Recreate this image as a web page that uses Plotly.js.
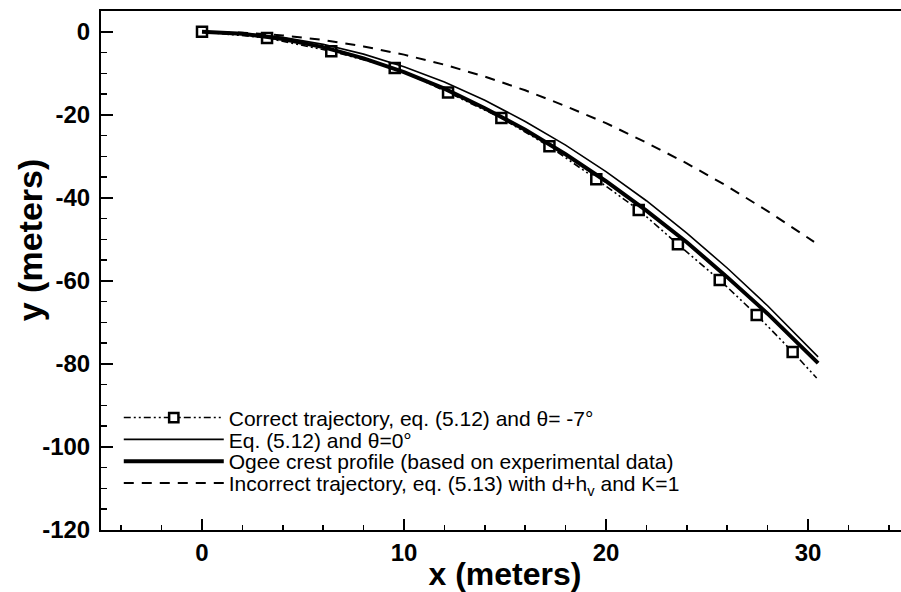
<!DOCTYPE html>
<html>
<head>
<meta charset="utf-8">
<script src="https://cdn.plot.ly/plotly-3.0.1.min.js"></script>
<style>
html,body{margin:0;padding:0;overflow:hidden;background:#fff;}
#chart{width:910px;height:592px;}
</style>
</head>
<body>
<div id="chart"></div>
<script>
// Correct trajectory, eq. (5.12), theta = -7 deg (markers)
var correctX = [0, 3.22, 6.40, 9.54, 12.18, 14.82, 17.20, 19.52, 21.62, 23.56, 25.63, 27.46, 29.24, 30.43];
var correctY = [0, -1.5, -4.7, -8.7, -14.6, -20.8, -27.6, -35.5, -42.9, -51.2, -59.8, -68.2, -77.1, -83.4];

// Eq. (5.12), theta = 0
var thetaZeroX = [0, 2, 4, 6, 8, 10, 12, 14, 16, 18, 20, 22, 24, 26, 28, 30, 30.5];
var thetaZeroY = [0, -0.34, -1.35, -3.03, -5.39, -8.4, -12.1, -16.5, -21.6, -27.3, -33.7, -40.7, -48.5, -56.9, -66.0, -75.8, -78.3];

// Ogee crest profile (experimental)
var ogeeX = [0, 2, 4, 6, 8, 10, 12, 14, 16, 18, 20, 22, 24, 26, 28, 30, 30.5];
var ogeeY = [0, -0.47, -1.73, -3.71, -6.39, -9.73, -13.7, -18.4, -23.6, -29.5, -36.0, -43.1, -50.7, -59.1, -67.9, -77.4, -79.8];

// Incorrect trajectory, eq. (5.13)
var incorrectX = [0, 2, 4, 6, 8, 10, 12, 14, 16, 18, 20, 22, 24, 26, 28, 30, 30.3];
var incorrectY = [0, -0.22, -0.88, -1.98, -3.53, -5.51, -7.93, -10.8, -14.1, -17.9, -22.0, -26.7, -31.7, -37.2, -43.2, -49.6, -50.6];

var seriesNames = [
  'Correct trajectory, eq. (5.12) and \u03b8= -7\u00b0',
  'Eq. (5.12) and \u03b8=0\u00b0',
  'Ogee crest profile (based on experimental data)',
  'Incorrect trajectory, eq. (5.13) with d+h<sub>v</sub> and K=1'
];

var yTickVals = [0, -20, -40, -60, -80, -100, -120];
var yTickText = ['0', '-20', '-40', '-60', '-80', '-100', '-120'];
var xTickVals = [0, 10, 20, 30];
var xTickText = ['0', '10', '20', '30'];

// marker sizes: last point of correct trajectory is the line end only
var correctSizes = correctX.map(function (v, i) { return i === correctX.length - 1 ? 0 : 10; });

var traces = [
  {x: correctX, y: correctY, name: seriesNames[0], mode: 'lines+markers', legend: 'legend',
   line: {color: '#000', width: 1.6, dash: '7px,3px,2px,3px,2px,3px'},
   marker: {symbol: 'square', size: correctSizes, color: '#fff', opacity: 1, line: {color: '#000', width: 2.5}}},
  {x: thetaZeroX, y: thetaZeroY, name: seriesNames[1], mode: 'lines', legend: 'legend2',
   line: {color: '#000', width: 1.6}},
  {x: ogeeX, y: ogeeY, name: seriesNames[2], mode: 'lines', legend: 'legend3',
   line: {color: '#000', width: 4}},
  {x: incorrectX, y: incorrectY, name: seriesNames[3], mode: 'lines', legend: 'legend4',
   line: {color: '#000', width: 2, dash: '10px,8px'}}
];

var tickFont = {family: 'Liberation Sans, Arial, sans-serif', size: 24, color: '#000', weight: 'bold'};
var legFont = {family: 'Liberation Sans, Arial, sans-serif', size: 21, color: '#000'};
function leg(yp) {
  return {x: 0.022, y: yp, xanchor: 'left', yanchor: 'middle', bgcolor: 'rgba(0,0,0,0)',
          borderwidth: 0, font: legFont, itemwidth: 100, tracegroupgap: 0};
}

var layout = {
  width: 910, height: 592,
  margin: {l: 101, r: 1, t: 11, b: 62},
  paper_bgcolor: '#fff', plot_bgcolor: '#fff',
  showlegend: true,
  legend: leg(0.216), legend2: leg(0.174), legend3: leg(0.132), legend4: leg(0.090),
  xaxis: {
    range: [-5, 35], tickvals: xTickVals, ticktext: xTickText,
    ticks: 'inside', ticklen: 11, tickwidth: 2, tickcolor: '#000',
    showline: true, linewidth: 2, linecolor: '#000', mirror: true,
    showgrid: false, zeroline: false,
    minor: {dtick: 2, tick0: 0, ticks: 'inside', ticklen: 5, tickwidth: 1.5, tickcolor: '#000', showgrid: false},
    tickfont: tickFont,
    title: {text: 'x (meters)', standoff: 4,
      font: {family: 'Liberation Sans, Arial, sans-serif', size: 32, color: '#000', weight: 'bold'}}
  },
  yaxis: {
    range: [-120, 5], tickvals: yTickVals, ticktext: yTickText,
    ticks: 'inside', ticklen: 12, tickwidth: 2, tickcolor: '#000',
    showline: true, linewidth: 2, linecolor: '#000', mirror: true,
    showgrid: false, zeroline: false,
    minor: {dtick: 5, tick0: 0, ticks: 'inside', ticklen: 6, tickwidth: 1.5, tickcolor: '#000', showgrid: false},
    tickfont: tickFont, ticklabelstandoff: 4
  },
  annotations: [{
    text: 'y (meters)', textangle: -90, xref: 'paper', yref: 'paper',
    x: -0.088, y: 0.56, xanchor: 'center', yanchor: 'middle', showarrow: false,
    font: {family: 'Liberation Sans, Arial, sans-serif', size: 34, color: '#000', weight: 'bold'}
  }]
};

Plotly.newPlot('chart', traces, layout, {displayModeBar: false, staticPlot: true});
</script>
</body>
</html>
